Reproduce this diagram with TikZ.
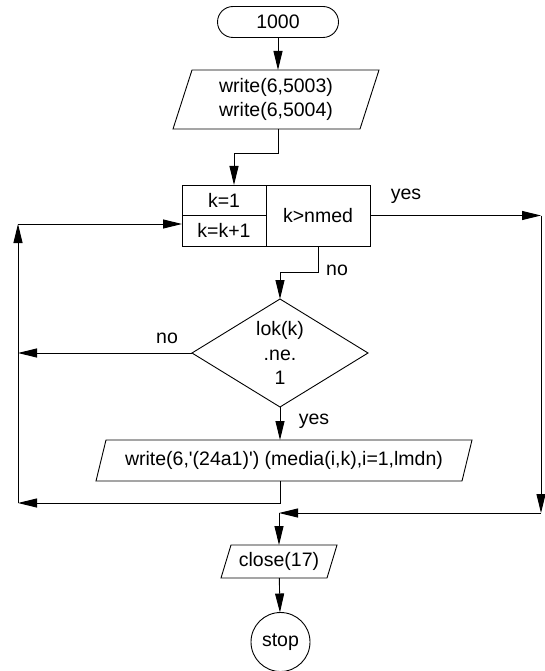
\documentclass[tikz,border=0pt]{standalone}
\usepackage{fontspec}
\setmainfont{Liberation Sans}[Ligatures=TeXOff]
\usetikzlibrary{arrows.meta,positioning,calc,shapes.geometric}
\tikzset{
  flow/.style={-{Triangle[length=19pt,width=9pt]},line width=0.9pt},
  box/.style={draw,line width=0.9pt,align=center,inner sep=0pt,outer sep=0pt},
  iotext/.style={align=center,inner sep=0pt,outer sep=0pt},
  labeltext/.style={inner sep=0pt}
}
\newcommand\slantframe[2]{\draw[line width=0.9pt] ($(#1.north west)+(#2,0)$)
  -- ($(#1.north east)+(#2,0)$) -- ($(#1.south east)-(#2,0)$)
  -- ($(#1.south west)-(#2,0)$) -- cycle;}

\begin{document}
\begin{tikzpicture}[x=1pt,y=-1pt,font=\fontsize{19.5}{24.5}\selectfont]
\useasboundingbox (0,0) rectangle (544,671);
\node[box,rounded corners=15.5pt,minimum width=121pt,minimum height=31pt] (start) at (278,22) {1000};
\node[iotext,minimum width=187pt,minimum height=59pt] (w1) at (276,99.5) {write(6,5003)\\write(6,5004)};
\slantframe{w1}{9.5}
\node[box,minimum width=84pt,minimum height=30pt] (kinit) at (224,200) {k=1};
\node[box,minimum width=84pt,minimum height=31pt] (kinc) at (224,230.5) {k=k+1};
\node[box,minimum width=104pt,minimum height=61pt] (ktest) at (318,215.5) {k>nmed};
\node[box,diamond,aspect=1.63,minimum width=176pt,minimum height=108pt] (lok) at (280,353) {lok(k)\\.ne.\\1};
\node[iotext,minimum width=366pt,minimum height=41pt] (w2) at (284,460.5) {write(6,'(24a1)') (media(i,k),i=1,lmdn)};
\slantframe{w2}{5}
\node[iotext,minimum width=106pt,minimum height=33pt] (cl) at (279,561.5) {close(17)};
\slantframe{cl}{5}
\node[box,circle,minimum size=59pt] (stop) at (280.5,642) {stop};

\coordinate (ry) at (541,215.5);
\coordinate (rb) at (541,513);
\coordinate (mj) at (cl.north |- rb);
\coordinate (lt) at (18,224);
\coordinate (lb) at (18,503);

\draw[flow] (start.south) -- (start.south |- w1.north);
\draw[flow] (w1.south -| start) -- ++(0,24) -| ($(kinit.north)+(10,0)$);
\draw[flow] (ktest.east) -- (ry);
\draw[flow] (ry) -- (rb);
\draw[flow] (rb) -- (mj);
\draw[flow] (mj) -- (cl.north);
\draw[flow] (cl) -- (stop);
\draw[flow] (ktest.south) -- ++(0,26) -| (lok.north);
\draw[flow] (lok.west) -- (lok.west -| lt);
\draw[flow] (lok.south) -- (lok.south |- w2.north);
\draw[flow] (w2.south -| lok.south) |- (lb);
\draw[flow] (lb) -- (lt);
\draw[flow] (lt) -- (lt -| kinc.west);

\node[labeltext] (yes1) at (406,196) {yes};
\node[labeltext] (no1) at (337,270) {no};
\node[labeltext] (no2) at (167,338) {no};
\node[labeltext] (yes2) at (314,421) {yes};
\end{tikzpicture}
\end{document}
